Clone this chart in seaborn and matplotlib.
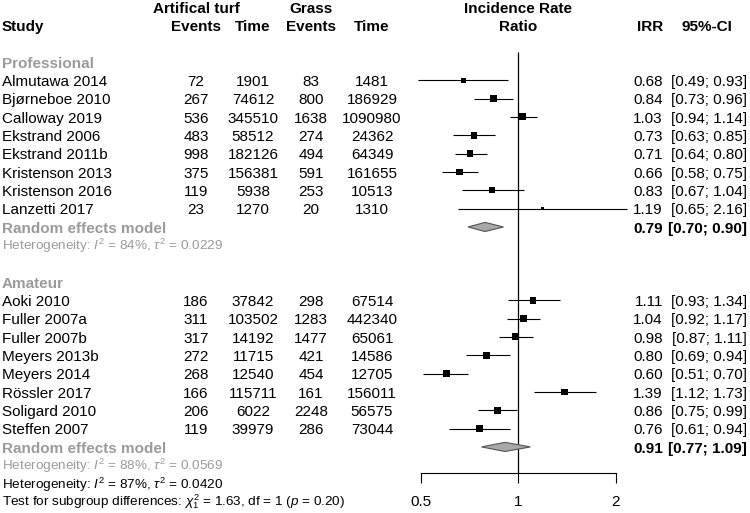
import numpy as np
import pandas as pd
import matplotlib
matplotlib.use("Agg")
import matplotlib.pyplot as plt
import matplotlib.transforms as mtransforms
import seaborn as sns

# ---- data ----
studies_pro = ["Almutawa 2014", "Bjørneboe 2010", "Calloway 2019", "Ekstrand 2006",
               "Ekstrand 2011b", "Kristenson 2013", "Kristenson 2016", "Lanzetti 2017"]
ev_turf_pro = [72, 267, 536, 483, 998, 375, 119, 23]
time_turf_pro = [1901, 74612, 345510, 58512, 182126, 156381, 5938, 1270]
ev_grass_pro = [83, 800, 1638, 274, 494, 591, 253, 20]
time_grass_pro = [1481, 186929, 1090980, 24362, 64349, 161655, 10513, 1310]
irr_pro = [0.68, 0.84, 1.03, 0.73, 0.71, 0.66, 0.83, 1.19]
lower_pro = [0.49, 0.73, 0.94, 0.63, 0.64, 0.58, 0.67, 0.65]
upper_pro = [0.93, 0.96, 1.14, 0.85, 0.80, 0.75, 1.04, 2.16]

studies_am = ["Aoki 2010", "Fuller 2007a", "Fuller 2007b", "Meyers 2013b",
              "Meyers 2014", "Rössler 2017", "Soligard 2010", "Steffen 2007"]
ev_turf_am = [186, 311, 317, 272, 268, 166, 206, 119]
time_turf_am = [37842, 103502, 14192, 11715, 12540, 115711, 6022, 39979]
ev_grass_am = [298, 1283, 1477, 421, 454, 161, 2248, 286]
time_grass_am = [67514, 442340, 65061, 14586, 12705, 156011, 56575, 73044]
irr_am = [1.11, 1.04, 0.98, 0.80, 0.60, 1.39, 0.86, 0.76]
lower_am = [0.93, 0.92, 0.87, 0.69, 0.51, 1.12, 0.75, 0.61]
upper_am = [1.34, 1.17, 1.11, 0.94, 0.70, 1.73, 0.99, 0.94]

re_pro = [0.79, 0.70, 0.90]
re_am = [0.91, 0.77, 1.09]
i2_pro, tau2_pro = 84, 0.0229
i2_am, tau2_am = 88, 0.0569
i2_all, tau2_all = 87, 0.0420
chi2_sub, df_sub, p_sub = 1.63, 1, 0.20

x_ticks = [0.5, 1, 2]

# ---- style ----
sns.set_theme(style="white")
plt.rcParams["font.family"] = ["Liberation Sans", "DejaVu Sans"]
plt.rcParams["mathtext.fontset"] = "custom"
plt.rcParams["mathtext.rm"] = "Liberation Sans"
plt.rcParams["mathtext.it"] = "Liberation Sans:italic"
plt.rcParams["mathtext.bf"] = "Liberation Sans:bold"

FS = 11
FS_HET = 9.7
GREY = "#9b9b9b"
W, H = 750, 513
ROW0, ROWH = 62, 18.33          # pixel centre of first row, row height
TXT_DY = 0.09                   # small nudge so glyphs sit on the row centre


def build_group(studies, ev_t, tm_t, ev_g, tm_g, irr, lo, hi, tau2, start):
    df = pd.DataFrame({"study": studies, "ev_t": ev_t, "tm_t": tm_t,
                       "ev_g": ev_g, "tm_g": tm_g, "irr": irr,
                       "lower": lo, "upper": hi})
    df["row"] = np.arange(start, start + len(df))
    # random-effects weight from CI width -> square area proportional to weight
    se = (np.log(df["upper"]) - np.log(df["lower"])) / (2 * 1.96)
    w = 1 / (se ** 2 + tau2)
    side_px = 7.0 * np.sqrt(w / w.max())
    df["msize"] = (side_px * 0.72) ** 2
    return df


pro = build_group(studies_pro, ev_turf_pro, time_turf_pro, ev_grass_pro,
                  time_grass_pro, irr_pro, lower_pro, upper_pro, tau2_pro, 1)
am = build_group(studies_am, ev_turf_am, time_turf_am, ev_grass_am,
                 time_grass_am, irr_am, lower_am, upper_am, tau2_am, 13)
data = pd.concat([pro, am], ignore_index=True)

fig = plt.figure(figsize=(W / 100, H / 100), dpi=100)
ax = fig.add_axes([0, 0, 1, 1])
ax.set_xscale("log", base=2)
x1_px, dbl_px = 518.3, 97.7
ax.set_xlim(2 ** (-x1_px / dbl_px), 2 ** ((W - x1_px) / dbl_px))
ax.set_ylim((H - ROW0) / ROWH, -ROW0 / ROWH)
axis_row = (473 - ROW0) / ROWH

# confidence intervals and squares
ax.hlines(data["row"], data["lower"], data["upper"], color="black", lw=0.8, clip_on=False)
sns.scatterplot(data=data, x="irr", y="row", marker="s", color="black",
                s=data["msize"].values, linewidth=0, ax=ax, legend=False, zorder=3)


def diamond(est, row, h=0.25):
    est_, lo, hi = est
    ax.fill([lo, est_, hi, est_], [row, row - h, row, row + h],
            facecolor="#a8a8a8", edgecolor="#555555", lw=0.8, zorder=3)


diamond(re_pro, 9)
diamond(re_am, 21)

# reference line at 1
ax.vlines(1, -0.55, axis_row, color="black", lw=0.9)

# x axis
for side in ["top", "right", "left"]:
    ax.spines[side].set_visible(False)
ax.spines["bottom"].set_position(("data", axis_row))
ax.spines["bottom"].set_bounds(x_ticks[0], x_ticks[-1])
ax.spines["bottom"].set_color("black")
ax.spines["bottom"].set_linewidth(0.8)
ax.set_xticks(x_ticks)
ax.set_xticklabels([f"{t:g}" for t in x_ticks])
ax.xaxis.set_minor_locator(matplotlib.ticker.NullLocator())
ax.tick_params(axis="x", bottom=True, direction="out", length=7.2, width=0.8,
               color="black", labelsize=FS, pad=8.5, labelcolor="black")
ax.set_yticks([])
ax.set_xlabel("")
ax.set_ylabel("")

# ---- text columns ----
tr = mtransforms.blended_transform_factory(fig.transFigure, ax.transData)


def put(xpx, row, s, ha="center", bold=False, color="black", size=FS, dy=TXT_DY):
    ax.text(xpx / W, row + dy, s, transform=tr, ha=ha, va="center", fontsize=size,
            fontweight="bold" if bold else "normal", color=color)


col_study, col_evt, col_tmt, col_evg, col_tmg = 2, 196, 253, 311, 372
col_irr, col_ci = 663, 747

put(col_evt, -3, "Artifical turf", bold=True)
put(col_evg, -3, "Grass", bold=True)
put(x1_px, -3, "Incidence Rate", bold=True)
put(col_study, -2, "Study", ha="left", bold=True)
put(col_evt, -2, "Events", bold=True)
put(col_tmt, -2, "Time", bold=True)
put(col_evg, -2, "Events", bold=True)
put(col_tmg, -2, "Time", bold=True)
put(x1_px, -2, "Ratio", bold=True)
put(col_irr, -2, "IRR", ha="right", bold=True)
put(707, -2, "95%-CI", bold=True)

put(col_study, 0, "Professional", ha="left", bold=True, color=GREY)
put(col_study, 12, "Amateur", ha="left", bold=True, color=GREY)

for _, r in data.iterrows():
    put(col_study, r["row"], r["study"], ha="left")
    put(col_evt, r["row"], f"{r['ev_t']:d}")
    put(col_tmt, r["row"], f"{r['tm_t']:d}")
    put(col_evg, r["row"], f"{r['ev_g']:d}")
    put(col_tmg, r["row"], f"{r['tm_g']:d}")
    put(col_irr, r["row"], f"{r['irr']:.2f}", ha="right")
    put(col_ci, r["row"], f"[{r['lower']:.2f}; {r['upper']:.2f}]", ha="right")

for est, row, i2, tau2 in [(re_pro, 9, i2_pro, tau2_pro), (re_am, 21, i2_am, tau2_am)]:
    put(col_study, row, "Random effects model", ha="left", bold=True, color=GREY)
    put(col_irr, row, f"{est[0]:.2f}", ha="right", bold=True)
    put(col_ci, row, f"[{est[1]:.2f}; {est[2]:.2f}]", ha="right", bold=True)
    put(col_study, row + 1, f"Heterogeneity: $I^2$ = {i2}%, $\\tau^2$ = {tau2:.4f}",
        ha="left", color=GREY, size=FS_HET, dy=0.05)

put(col_study, 23, f"Heterogeneity: $I^2$ = {i2_all}%, $\\tau^2$ = {tau2_all:.4f}",
    ha="left", size=FS_HET, dy=0.05)
put(col_study, 24, f"Test for subgroup differences: $\\chi^2_{df_sub}$ = {chi2_sub:.2f}, "
    f"df = {df_sub} ($p$ = {p_sub:.2f})", ha="left", size=FS_HET, dy=0.0)

fig.savefig("out.png", dpi=100)
